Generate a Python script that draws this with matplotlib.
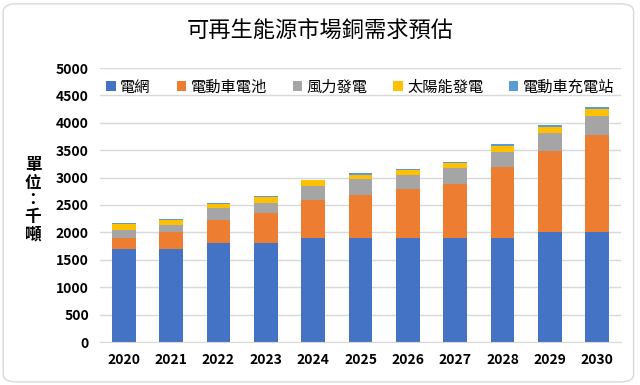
import matplotlib.pyplot as plt
from matplotlib.patches import FancyBboxPatch
import numpy as np

plt.rcParams['font.family'] = ['Noto Sans CJK TC', 'DejaVu Sans']

years = ['2020', '2021', '2022', '2023', '2024', '2025', '2026', '2027', '2028', '2029', '2030']
grid = [1700, 1700, 1800, 1800, 1900, 1900, 1900, 1900, 1900, 2000, 2000]
ev_battery = [200, 300, 430, 560, 690, 780, 900, 980, 1290, 1480, 1770]
wind = [150, 140, 210, 180, 260, 300, 250, 290, 270, 330, 360]
solar = [100, 85, 85, 100, 100, 70, 90, 100, 115, 120, 120]
charging = [15, 18, 18, 18, 15, 30, 18, 18, 30, 25, 40]

series = [
    ('電網', grid, '#4472C4'),
    ('電動車電池', ev_battery, '#ED7D31'),
    ('風力發電', wind, '#A5A5A5'),
    ('太陽能發電', solar, '#FFC000'),
    ('電動車充電站', charging, '#5B9BD5'),
]

fig = plt.figure(figsize=(6.4, 3.85), dpi=100)
border = FancyBboxPatch((0.005, 0.008), 0.985, 0.982, boxstyle='round,pad=0,rounding_size=0.02',
                        transform=fig.transFigure, fill=False, edgecolor='#D9D9D9', linewidth=1)
fig.patches.append(border)

ax = fig.add_axes([100 / 640, 1 - 342 / 385, 521 / 640, 274 / 385])
x = np.arange(len(years))
bottom = np.zeros(len(years))
for name, vals, col in series:
    ax.bar(x, vals, 0.5, bottom=bottom, color=col, label=name, linewidth=0)
    bottom += np.array(vals)

ax.set_xlim(-0.5, len(years) - 0.5)
ax.set_ylim(0, 5000)
ax.set_yticks(range(0, 5001, 500))
ax.set_xticks(x)
ax.set_xticklabels(years)
ax.yaxis.grid(True, color='#D9D9D9', linewidth=1)
ax.set_axisbelow(True)
for s in ['top', 'right', 'left']:
    ax.spines[s].set_visible(False)
ax.spines['bottom'].set_color('#D9D9D9')
ax.tick_params(axis='both', length=0, labelsize=10)
ax.tick_params(axis='y', pad=8)
ax.tick_params(axis='x', pad=8)
for lab in ax.get_xticklabels() + ax.get_yticklabels():
    lab.set_fontweight('bold')

leg = ax.legend(loc='upper center', bbox_to_anchor=(0.5, 1.0), ncol=5, frameon=False,
                fontsize=11, handlelength=0.6, handleheight=0.6, handletextpad=0.3,
                columnspacing=1.7, borderaxespad=0.3)

fig.text(0.5, 1 - 30 / 385, '可再生能源市場銅需求預估', ha='center', va='center', fontsize=16)
fig.text(33 / 640, 1 - 200 / 385, '單\n位\n：\n千\n噸', ha='center', va='center', fontsize=12,
         linespacing=0.95, fontweight='bold')

fig.savefig('out.png', dpi=100)
